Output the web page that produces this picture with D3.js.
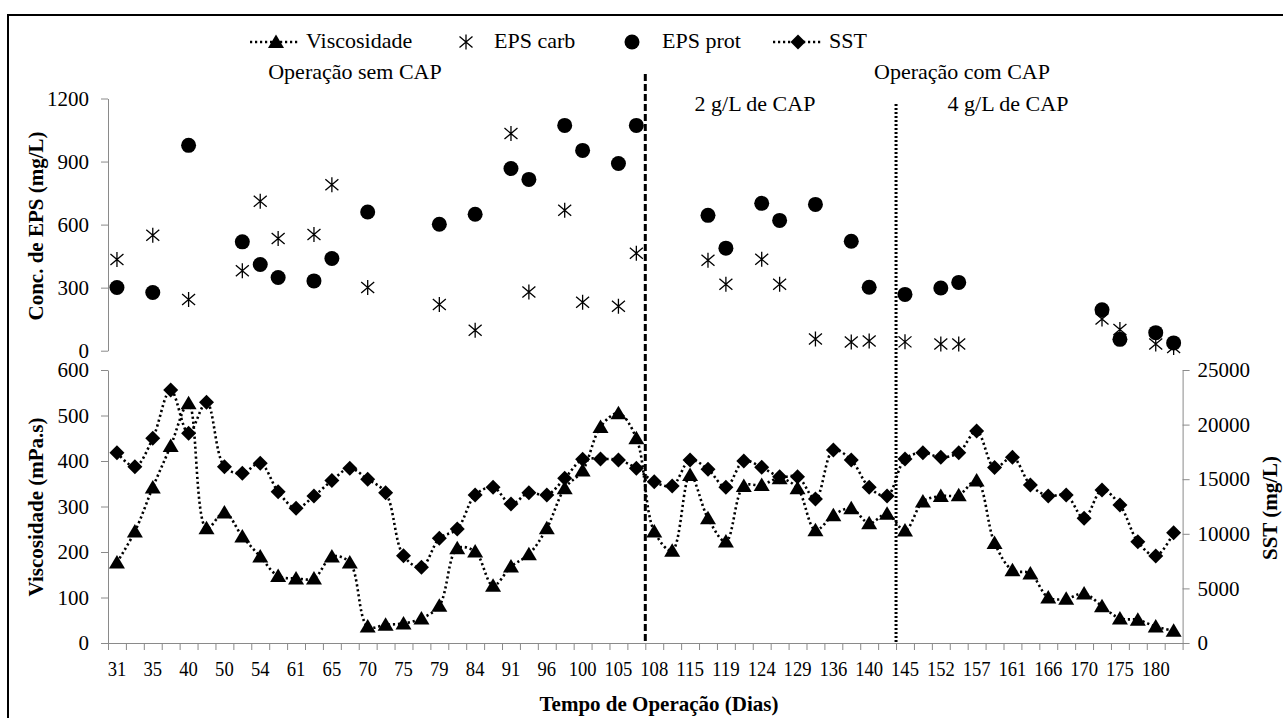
<!DOCTYPE html>
<html><head><meta charset="utf-8">
<script src="https://cdn.jsdelivr.net/npm/d3@7"></script>
<style>html,body{margin:0;padding:0;background:#fff;} svg{display:block;}</style>
</head><body><svg id="c" width="1283" height="718"></svg>
<script>
// ---- data ----
const categories = [31,33,35,38,40,45,50,52,54,58,61,63,65,68,70,72,75,77,79,82,84,87,91,93,96,98,100,103,105,107,
  108,112,115,117,119,122,124,126,129,133,136,138,140,143,145,149,152,154,157,159,161,164,166,168,170,173,175,178,180,182];
const tickLabels = [31,35,40,50,54,61,65,70,75,79,84,91,96,100,105,108,115,119,124,129,136,140,145,152,157,161,166,170,175,180];
const viscosidade = [177,245,342,433,527,252,287,234,190,147,142,142,190,177,36,40,43,54,82,208,201,126,168,195,252,340,379,475,505,450,
  245,203,369,274,223,345,347,362,340,248,281,296,263,284,247,311,323,325,357,220,160,153,100,97,109,81,54,51,36,27];
const sst = [17430,16150,18740,23170,19200,22040,16150,15540,16460,13860,12330,13460,14870,16000,14990,13770,7990,6930,9590,10440,
  13550,14260,12730,13770,13550,15080,16820,16850,16760,16000,
  14770,14380,16760,15900,14260,16670,16090,15230,15230,13190,17670,16760,14260,13460,16850,17430,17000,17430,19410,16060,
  17000,14470,13460,13550,11420,14010,12640,9280,7970,10100];
const epsCarb = [434,null,549,null,244,null,null,380,711,534,null,553,790,null,301,null,null,null,220,null,
  97,null,1033,279,null,668,231,null,212,464,
  null,null,null,430,316,null,435,316,null,56,null,41,46,null,42,null,32,32,null,null,
  null,null,null,null,null,151,101,null,32,15];
const epsProt = [301,null,277,null,977,null,null,518,410,348,null,332,439,null,660,null,null,null,602,null,
  649,null,867,815,null,1072,953,null,891,1072,
  null,null,null,644,488,null,701,620,null,696,null,521,302,null,268,null,298,325,null,null,
  null,null,null,null,null,195,54,null,86,37];
const epsTicks = [0,300,600,900,1200];
const viscTicks = [0,100,200,300,400,500,600];
const sstTicks = [0,5000,10000,15000,20000,25000];
const seriesNames = ["Viscosidade","EPS carb","EPS prot","SST"];

// ---- layout ----
const svg = d3.select("#c");
const FONT = "'Liberation Serif','Times New Roman',serif";
const AX = "#8a8a8a";
const fmt = d3.format("d");
svg.append("rect").attr("width",1283).attr("height",718).attr("fill","#fff");
svg.append("rect").attr("x",8).attr("y",15).attr("width",1300).attr("height",740)
  .attr("fill","none").attr("stroke","#000").attr("stroke-width",2);

const X0 = 108, X1 = 1182.6;
const x = d3.scaleBand().domain(categories).range([X0, X1]).paddingInner(0).paddingOuter(0);
const xEdge = d3.scaleLinear().domain([0, categories.length]).range([X0, X1]);
const cx = d => x(d) + x.bandwidth()/2;
const yEPS = d3.scaleLinear().domain([0,1200]).range([350.7, 98.5]);
const yVis = d3.scaleLinear().domain([0,600]).range([643, 370]);
const ySST = d3.scaleLinear().domain([0,25000]).range([643, 370]);

function styleAxis(g, size){
  g.selectAll("path,line").attr("stroke", AX).attr("stroke-width",1);
  g.selectAll("text").attr("fill","#000").style("font-family",FONT).style("font-size",size+"px");
}

// top left axis
const gTop = svg.append("g").attr("transform",`translate(${X0},0)`)
  .call(d3.axisLeft(yEPS).tickValues(epsTicks).tickFormat(fmt).tickSize(7).tickSizeOuter(0).tickPadding(12));
styleAxis(gTop, 21);
// bottom left axis
const gVis = svg.append("g").attr("transform",`translate(${X0},0)`)
  .call(d3.axisLeft(yVis).tickValues(viscTicks).tickFormat(fmt).tickSize(7).tickSizeOuter(0).tickPadding(12));
styleAxis(gVis, 21);
// right axis
const gSST = svg.append("g").attr("transform",`translate(${X1},0)`)
  .call(d3.axisRight(ySST).tickValues(sstTicks).tickFormat(fmt).tickSize(7).tickSizeOuter(0).tickPadding(8));
styleAxis(gSST, 21);
// x axis tick marks at category edges
const gXe = svg.append("g").attr("transform",`translate(0,643)`)
  .call(d3.axisBottom(xEdge).tickValues(d3.range(categories.length+1)).tickFormat("").tickSize(7).tickSizeOuter(0));
styleAxis(gXe, 20);
// x labels
const gXl = svg.append("g").attr("transform",`translate(0,643)`)
  .call(d3.axisBottom(x).tickValues(tickLabels).tickFormat(fmt).tickSize(0).tickPadding(18));
gXl.select(".domain").remove();
styleAxis(gXl, 21);
gXl.selectAll("text").each(function(){
  const t = d3.select(this); const s = t.text();
  t.attr("textLength", s.length*9.3).attr("lengthAdjust","spacingAndGlyphs");
});

// ---- separators ----
const xSep1 = xEdge(30), xSep2 = xEdge(44);
svg.append("line").attr("x1",xSep1).attr("x2",xSep1).attr("y1",74).attr("y2",643)
  .attr("stroke","#000").attr("stroke-width",3).attr("stroke-dasharray","7,3");
svg.append("line").attr("x1",xSep2).attr("x2",xSep2).attr("y1",104).attr("y2",643)
  .attr("stroke","#000").attr("stroke-width",3).attr("stroke-dasharray","2,2");

// ---- markers ----
const triPath = "M0,-7.5L8,6L-8,6Z";
const diaPath = "M0,-7.5L7.5,0L0,7.5L-7.5,0Z";
const astPath = "M0,-7.5L0,7.5M-6.5,-5.5L6.5,5.5M-6.5,5.5L6.5,-5.5";

const lineVis = d3.line().x((d,i)=>cx(categories[i])).y(d=>yVis(d)).curve(d3.curveCatmullRom.alpha(0.5));
const lineSST = d3.line().x((d,i)=>cx(categories[i])).y(d=>ySST(d)).curve(d3.curveCatmullRom.alpha(0.5));
const dotStyle = sel => sel.attr("fill","none").attr("stroke","#000").attr("stroke-width",2.6)
  .attr("stroke-dasharray","2.2,2.8");

svg.append("path").datum(viscosidade).attr("d",lineVis).call(dotStyle);
svg.append("g").selectAll("path").data(viscosidade).join("path")
  .attr("d",triPath).attr("transform",(d,i)=>`translate(${cx(categories[i])},${yVis(d)})`).attr("fill","#000");

svg.append("path").datum(sst).attr("d",lineSST).call(dotStyle);
svg.append("g").selectAll("path").data(sst).join("path")
  .attr("d",diaPath).attr("transform",(d,i)=>`translate(${cx(categories[i])},${ySST(d)})`).attr("fill","#000");

const carbPts = categories.map((c,i)=>({c,v:epsCarb[i]})).filter(d=>d.v!=null);
svg.append("g").selectAll("path").data(carbPts).join("path")
  .attr("d",astPath).attr("transform",d=>`translate(${cx(d.c)},${yEPS(d.v)})`)
  .attr("fill","none").attr("stroke","#000").attr("stroke-width",1.3);

const protPts = categories.map((c,i)=>({c,v:epsProt[i]})).filter(d=>d.v!=null);
svg.append("g").selectAll("circle").data(protPts).join("circle")
  .attr("cx",d=>cx(d.c)).attr("cy",d=>yEPS(d.v)).attr("r",7.5).attr("fill","#000");

// ---- texts ----
const txt = (s,x0,y0,opt={}) => svg.append("text").text(s).attr("x",x0).attr("y",y0)
  .attr("text-anchor",opt.anchor||"start").style("font-family",FONT)
  .style("font-size",(opt.size||22)+"px").style("font-weight",opt.bold?"bold":"normal")
  .attr("transform",opt.rot?`rotate(-90,${x0},${y0})`:null).attr("fill","#000");

txt("Operação sem CAP",355,79,{anchor:"middle"});
txt("Operação com CAP",962,79,{anchor:"middle"});
txt("2 g/L de CAP",755,111,{anchor:"middle"});
txt("4 g/L de CAP",1008,111,{anchor:"middle"});
txt("Conc. de EPS (mg/L)",43,226,{anchor:"middle",bold:true,size:21,rot:true});
txt("Viscosidade (mPa.s)",43,507,{anchor:"middle",bold:true,size:21,rot:true});
txt("SST (mg/L)",1277,508,{anchor:"middle",bold:true,size:21,rot:true});
txt("Tempo de Operação (Dias)",659,711,{anchor:"middle",bold:true,size:21});

// ---- legend ----
const lg = svg.append("g");
const LY = 42;
lg.append("line").attr("x1",250).attr("x2",300).attr("y1",LY).attr("y2",LY).call(dotStyle);
lg.append("path").attr("d",triPath).attr("transform",`translate(276,${LY})`).attr("fill","#000");
txt(seriesNames[0],306,48);
lg.append("path").attr("d",astPath).attr("transform",`translate(466,${LY})`)
  .attr("fill","none").attr("stroke","#000").attr("stroke-width",1.3);
txt(seriesNames[1],494,48);
lg.append("circle").attr("cx",632).attr("cy",LY).attr("r",7.5).attr("fill","#000");
txt(seriesNames[2],662,48);
lg.append("line").attr("x1",773).attr("x2",822).attr("y1",LY).attr("y2",LY).call(dotStyle);
lg.append("path").attr("d",diaPath).attr("transform",`translate(798,${LY})`).attr("fill","#000");
txt(seriesNames[3],829,48);
</script></body></html>
